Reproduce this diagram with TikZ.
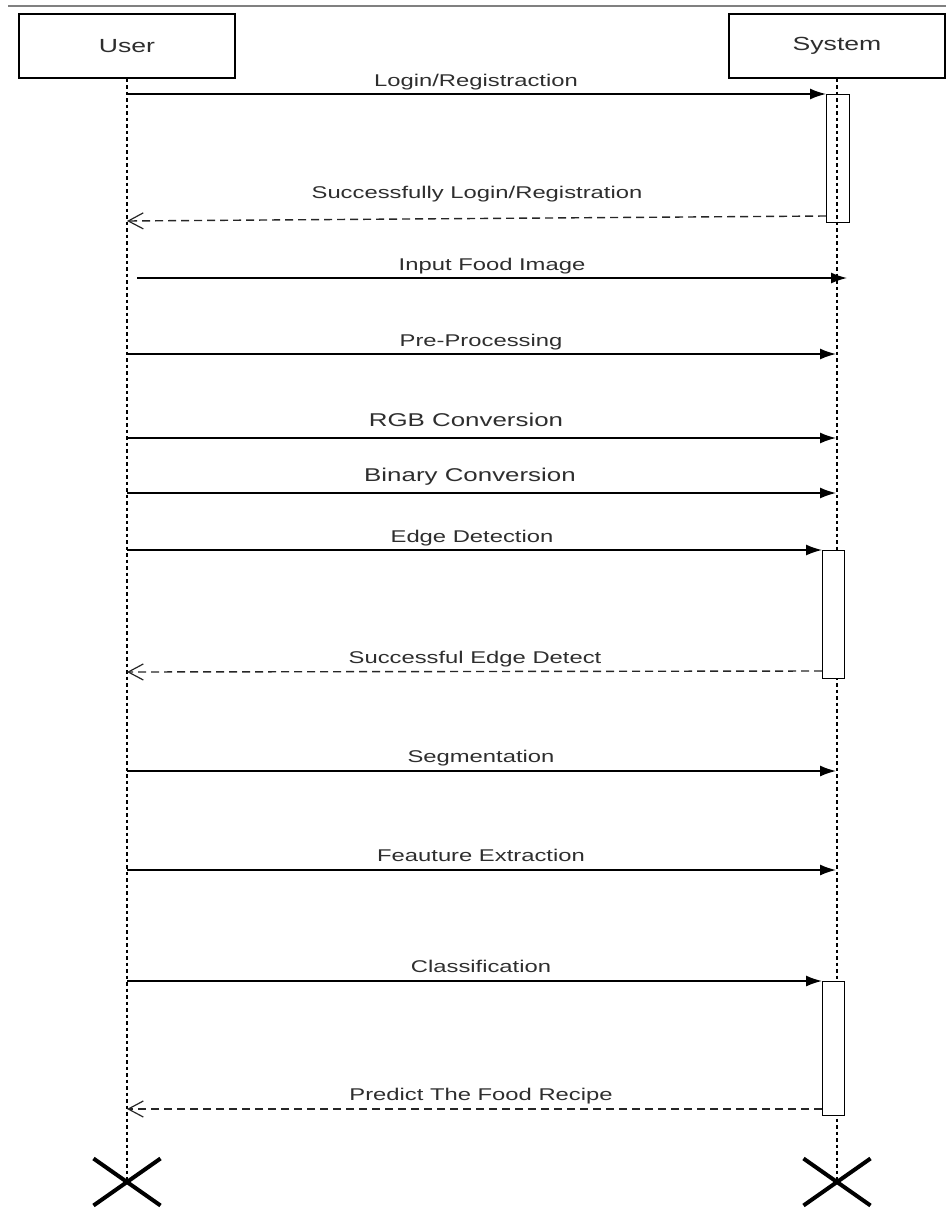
\documentclass[tikz,border=0pt]{standalone}
\usepackage{fontspec}
\setmainfont{Liberation Sans}
\newfontfamily\lab[FakeStretch=1.4]{Liberation Sans}
\usetikzlibrary{arrows.meta}
\definecolor{txt}{HTML}{2E2E2E}
\begin{document}
\begin{tikzpicture}[x=1pt,y=-1pt,
 actor/.style={draw=black,line width=1.4pt,minimum width=216pt,minimum height=64pt,inner sep=0pt,font=\lab\fontsize{19}{22}\selectfont,text=txt},
 life/.style={line width=1.4pt,dash pattern=on 3.5pt off 3pt},
 msg/.style={line width=1.5pt,-{Latex[length=16pt,width=11pt]}},
 ret/.style={line width=1.4pt,draw=black!85,dash pattern=on 8pt off 5pt,-{Straight Barb[length=15pt,width=16pt,line width=1.2pt]}},
 lbl/.style={anchor=base,text=txt,inner sep=0pt,font=\lab\fontsize{17}{20}\selectfont},
 big/.style={lbl,font=\lab\fontsize{18.5}{22}\selectfont},
 act/.style={draw=black,line width=1.4pt,inner sep=0pt,anchor=north west},
 xmark/.style={line width=4pt}]
\useasboundingbox (0,0) rectangle (946,1215);
\draw[gray,line width=1.5pt] (8,6) -- (946,6);
% actors
\node[actor] (user) at (127,46) {User};
\node[actor] (sys) at (837,46) {System};
\coordinate (uX) at (127,1182);
\coordinate (sX) at (837,1182);
\draw[life] (user.south) -- (uX);
\draw[life] (sys.south) -- (sX);
% activation boxes
\node[act,minimum width=23pt,minimum height=128pt] (a1) at (826,94) {};
\node[act,fill=white,minimum width=22pt,minimum height=128pt] (a2) at (822,550) {};
\node[act,fill=white,minimum width=22pt,minimum height=134pt] (a3) at (822,981) {};
% message end points
\coordinate (m1s) at (127,94);
\coordinate (r1s) at (826,216); \coordinate (r1e) at (127,221);
\coordinate (m2s) at (137,278); \coordinate (m2e) at (847,278);
\coordinate (m3s) at (127,354); \coordinate (m3e) at (836,354);
\coordinate (m4s) at (127,438); \coordinate (m4e) at (836,438);
\coordinate (m5s) at (127,493); \coordinate (m5e) at (836,493);
\coordinate (m6s) at (127,550);
\coordinate (r2s) at (822,671); \coordinate (r2e) at (127,672);
\coordinate (m7s) at (127,771); \coordinate (m7e) at (836,771);
\coordinate (m8s) at (127,870); \coordinate (m8e) at (836,870);
\coordinate (m9s) at (127,981);
\coordinate (r3s) at (822,1109); \coordinate (r3e) at (127,1109);
% messages
\draw[msg] (m1s) -- (a1.north west);
\draw[ret] (r1s) -- (r1e);
\draw[msg] (m2s) -- (m2e);
\draw[msg] (m3s) -- (m3e);
\draw[msg] (m4s) -- (m4e);
\draw[msg] (m5s) -- (m5e);
\draw[msg] (m6s) -- (a2.north west);
\draw[ret] (r2s) -- (r2e);
\draw[msg] (m7s) -- (m7e);
\draw[msg] (m8s) -- (m8e);
\draw[msg] (m9s) -- (a3.north west);
\draw[ret] (r3s) -- (r3e);
% labels
\node[lbl] (t1) at (476,86) {Login/Registraction};
\node[lbl] (t2) at (477,198) {Successfully Login/Registration};
\node[lbl] (t3) at (492,270) {Input Food Image};
\node[lbl] (t4) at (481,346) {Pre-Processing};
\node[big] (t5) at (466,426) {RGB Conversion};
\node[big] (t6) at (470,481) {Binary Conversion};
\node[lbl] (t7) at (472,542) {Edge Detection};
\node[lbl] (t8) at (475,663) {Successful Edge Detect};
\node[lbl] (t9) at (481,762) {Segmentation};
\node[lbl] (t10) at (481,861) {Feauture Extraction};
\node[lbl] (t11) at (481,972) {Classification};
\node[lbl] (t12) at (481,1100) {Predict The Food Recipe};
% destruction marks
\draw[xmark] ([shift={(-33.5,-23.5)}]uX) -- ([shift={(33.5,23.5)}]uX);
\draw[xmark] ([shift={(-33.5,23.5)}]uX) -- ([shift={(33.5,-23.5)}]uX);
\draw[xmark] ([shift={(-33.5,-23.5)}]sX) -- ([shift={(33.5,23.5)}]sX);
\draw[xmark] ([shift={(-33.5,23.5)}]sX) -- ([shift={(33.5,-23.5)}]sX);
\end{tikzpicture}
\end{document}
